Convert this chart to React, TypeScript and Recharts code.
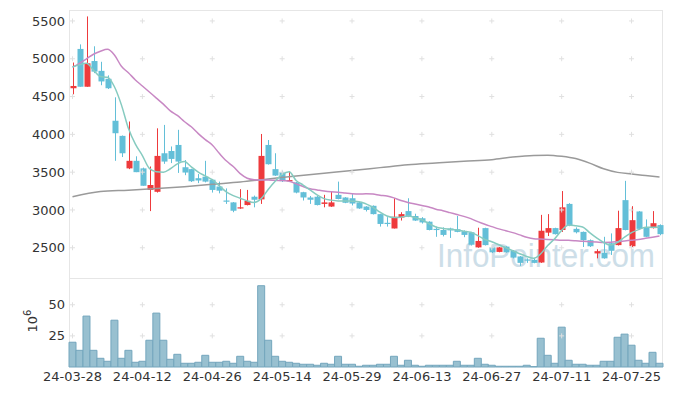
import React from 'react';
import { ComposedChart, Bar, Line, XAxis, YAxis, ReferenceDot } from 'recharts';

const dates = [
  '24-03-28', '24-03-29', '24-04-01', '24-04-02', '24-04-03', '24-04-04', '24-04-05', '24-04-08', '24-04-09', '24-04-11',
  '24-04-12', '24-04-15', '24-04-16', '24-04-17', '24-04-18', '24-04-19', '24-04-22', '24-04-23', '24-04-24', '24-04-25',
  '24-04-26', '24-04-29', '24-04-30', '24-05-02', '24-05-03', '24-05-07', '24-05-08', '24-05-09', '24-05-10', '24-05-13',
  '24-05-14', '24-05-16', '24-05-17', '24-05-20', '24-05-21', '24-05-22', '24-05-23', '24-05-24', '24-05-27', '24-05-28',
  '24-05-29', '24-05-30', '24-05-31', '24-06-03', '24-06-04', '24-06-05', '24-06-07', '24-06-10', '24-06-11', '24-06-12',
  '24-06-13', '24-06-14', '24-06-17', '24-06-18', '24-06-19', '24-06-20', '24-06-21', '24-06-24', '24-06-25', '24-06-26',
  '24-06-27', '24-06-28', '24-07-01', '24-07-02', '24-07-03', '24-07-04', '24-07-05', '24-07-08', '24-07-09', '24-07-10',
  '24-07-11', '24-07-12', '24-07-15', '24-07-16', '24-07-17', '24-07-18', '24-07-19', '24-07-22', '24-07-23', '24-07-24',
  '24-07-25', '24-07-26', '24-07-29', '24-07-30', '24-07-31',
];

const opens = [
  4610, 5130, 4630, 4970, 4840, 4735, 4180, 3980, 3550, 3650,
  3550, 3265, 3240, 3750, 3780, 3860, 3565, 3540, 3420, 3440,
  3400, 3310, 3125, 3100, 3020, 3065, 3175, 3140, 3860, 3540,
  3500, 3385, 3365, 3235, 3165, 3175, 3080, 3045, 3200, 3165,
  3155, 3100, 3045, 3055, 2945, 2830, 2755, 2900, 2985, 2920,
  2890, 2845, 2750, 2735, 2755, 2745, 2720, 2705, 2505, 2760,
  2505, 2445, 2515, 2460, 2385, 2345, 2340, 2305, 2700, 2760,
  2735, 3080, 2750, 2710, 2600, 2425, 2435, 2560, 2535, 3130,
  2520, 2980, 2770, 2760, 2800,
];
const highs = [
  4950, 5190, 5560, 5165, 4960, 4780, 4490, 3985, 4170, 3710,
  3560, 3575, 4080, 4125, 3840, 4060, 3660, 3545, 3475, 3650,
  3410, 3375, 3285, 3105, 3275, 3265, 3190, 4005, 3925, 3750,
  3520, 3510, 3370, 3240, 3185, 3185, 3200, 3240, 3375, 3170,
  3210, 3105, 3050, 3060, 2950, 2905, 3155, 2970, 3155, 2950,
  2905, 2850, 2780, 2770, 2765, 2920, 2730, 2710, 2765, 2765,
  2510, 2510, 2520, 2470, 2390, 2360, 2360, 2935, 2945, 2765,
  3250, 3090, 2770, 2715, 2610, 2480, 2645, 2690, 2990, 3385,
  3050, 2985, 2875, 2985, 2810,
];
const lows = [
  4530, 4630, 4630, 4810, 4650, 4600, 3650, 3700, 3540, 3500,
  3320, 2985, 3230, 3610, 3620, 3490, 3460, 3370, 3355, 3365,
  3230, 3220, 3080, 2970, 3015, 3060, 3035, 3080, 3600, 3450,
  3370, 3380, 3220, 3125, 3080, 3060, 3035, 3040, 3140, 3090,
  3060, 3015, 2980, 2940, 2780, 2780, 2755, 2860, 2905, 2855,
  2820, 2730, 2645, 2650, 2630, 2705, 2640, 2530, 2500, 2530,
  2430, 2440, 2435, 2360, 2260, 2300, 2295, 2300, 2655, 2675,
  2710, 2785, 2690, 2510, 2510, 2360, 2355, 2405, 2530, 2730,
  2510, 2740, 2640, 2755, 2665,
];
const closes = [
  4640, 4630, 4940, 4830, 4700, 4610, 4015, 3750, 3650, 3500,
  3320, 3330, 3715, 3640, 3675, 3640, 3495, 3380, 3390, 3375,
  3265, 3255, 3115, 2990, 3035, 3120, 3135, 3715, 3605, 3455,
  3380, 3395, 3230, 3165, 3135, 3065, 3100, 3100, 3145, 3095,
  3085, 3020, 3000, 2945, 2815, 2815, 2910, 2945, 2910, 2860,
  2835, 2735, 2740, 2670, 2730, 2710, 2670, 2540, 2590, 2535,
  2440, 2505, 2440, 2370, 2300, 2335, 2300, 2725, 2760, 2680,
  3035, 2790, 2705, 2600, 2520, 2455, 2360, 2460, 2760, 2735,
  2865, 2750, 2645, 2825, 2680,
];

// volume in millions
const volumes = [
  19.9, 13.4, 40.9, 13.4, 7.0, 4.6, 37.6, 7.0, 13.4, 3.8,
  4.6, 21.5, 43.3, 21.5, 6.2, 10.2, 3.0, 3.0, 3.8, 9.4,
  3.8, 3.8, 4.6, 3.0, 8.6, 4.6, 3.8, 65.3, 21.5, 8.6,
  4.6, 3.8, 3.0, 2.2, 2.2, 1.4, 3.0, 2.2, 8.6, 2.2,
  2.2, 0.6, 1.4, 1.4, 2.2, 2.2, 8.6, 1.4, 5.4, 1.4,
  0.6, 1.4, 1.4, 1.4, 1.4, 4.6, 1.4, 1.4, 7.0, 2.2,
  1.4, 0.6, 0.6, 0.6, 0.6, 1.4, 0.3, 23.1, 9.4, 3.0,
  32.0, 5.4, 2.2, 2.2, 1.4, 1.4, 4.6, 4.6, 23.9, 26.4,
  17.5, 5.4, 3.0, 11.8, 3.0,
];

// moving averages
const ma5 = [
  4890, 4920, 4940, 4850, 4765, 4755, 4630, 4390, 4080, 3870,
  3720, 3550, 3505, 3500, 3545, 3610, 3640, 3570, 3500, 3450,
  3400, 3320, 3240, 3190, 3155, 3120, 3100, 3150, 3270, 3380,
  3470, 3505, 3390, 3330, 3265, 3200, 3150, 3130, 3120, 3120,
  3115, 3110, 3080, 3035, 2970, 2920, 2900, 2905, 2920, 2900,
  2870, 2820, 2775, 2755, 2745, 2735, 2720, 2705, 2660, 2610,
  2580, 2540, 2500, 2460, 2420, 2385, 2360, 2420, 2530, 2620,
  2730, 2800, 2790, 2775, 2700, 2630, 2570, 2535, 2570, 2640,
  2700, 2740, 2770, 2770, 2770,
];
const ma20 = [
  4890, 4940, 5000, 5060, 5100, 5125, 5050, 4900, 4815, 4720,
  4640, 4560, 4480, 4400, 4310, 4250, 4170, 4100, 4010, 3930,
  3860, 3750, 3650, 3575, 3480, 3420, 3400, 3395, 3395, 3392,
  3390, 3380, 3345, 3310, 3280, 3265, 3250, 3240, 3235, 3225,
  3215, 3210, 3215, 3210, 3195, 3185, 3160, 3125, 3100, 3080,
  3060, 3040, 3010, 2990, 2965, 2940, 2915, 2885, 2845, 2810,
  2780, 2750, 2725, 2700, 2670, 2640, 2620, 2615, 2610, 2605,
  2600, 2598, 2592, 2585, 2580, 2575, 2570, 2572, 2580, 2590,
  2600, 2610, 2625, 2640, 2655,
];
const ma60Idx = [0, 4, 8, 12, 16, 20, 24, 28, 32, 36, 40, 44, 48, 52, 56, 60, 63, 66, 68, 70, 72, 74, 76, 78, 80, 82, 84];
const ma60Val = [3175, 3245, 3262, 3283, 3308, 3340, 3370, 3410, 3450, 3487, 3522, 3560, 3598, 3622, 3645, 3665, 3700, 3722, 3725, 3710, 3680, 3620, 3545, 3497, 3475, 3455, 3435];

const priceTicks = [2500, 3000, 3500, 4000, 4500, 5000, 5500];
const volTicks = [25, 50];

const RED = '#ee3a3c';
const BLUE = '#63bfd8';
const FONT = 'DejaVu Sans';

const rows = dates.map((d, i) => {
  const k = ma60Idx.indexOf(i);
  return {
    date: d,
    open: opens[i],
    high: highs[i],
    low: lows[i],
    close: closes[i],
    range: [lows[i], highs[i]],
    vol: volumes[i],
    ma5: ma5[i],
    ma20: ma20[i],
    ma60: k >= 0 ? ma60Val[k] : null,
  };
});

const gridDates = dates.filter((_, i) => i % 10 === 0);

const Candle = (props: any) => {
  let { x, y, width, height } = props;
  const { open, close, high, low } = props.payload;
  if (height < 0) {
    y += height;
    height = -height;
  }
  const color = close >= open ? RED : BLUE;
  const ratio = high === low ? 0 : height / (high - low);
  const cx = Math.round(x + width / 2) + 0.5;
  const top = y + (high - Math.max(open, close)) * ratio;
  const bot = y + (high - Math.min(open, close)) * ratio;
  return (
    <g>
      <line x1={cx} x2={cx} y1={y} y2={y + height} stroke={color} strokeWidth={1} />
      <rect x={cx - 3} y={top} width={6} height={Math.max(1.2, bot - top)} fill={color} />
    </g>
  );
};

const Cross = (props: any) => {
  const { cx, cy } = props;
  return (
    <path
      d={`M${cx - 2.5},${cy}H${cx + 2.5}M${cx},${cy - 2.5}V${cy + 2.5}`}
      stroke="#e0e0e0"
      strokeWidth={1}
    />
  );
};

const crosses = (values: number[], prefix: string) =>
  gridDates.flatMap((d) =>
    values.map((v) => (
      <ReferenceDot key={`${prefix}-${d}-${v}`} x={d} y={v} shape={<Cross />} />
    ))
  );

const tickStyle = { fontSize: 13, fill: '#333', fontFamily: FONT };

// coordinates are inside the volume chart's own svg (which starts at page y 278)
const VolLabel = () => (
  <text x={37} y={43} transform="rotate(-90 37 43)" textAnchor="middle" fontSize={13} fill="#333" fontFamily={FONT}>
    10<tspan dy={-6} fontSize={10}>6</tspan>
  </text>
);

export default function App() {
  return (
    <div style={{ position: 'absolute', left: 0, top: 0, width: 673, height: 396, background: '#fff' }}>
      <svg width={673} height={396} style={{ position: 'absolute', left: 0, top: 0 }}>
        <text
          x={437}
          y={267}
          fontSize={34}
          fontFamily="Liberation Sans"
          fill="#cddee8"
          textLength={218}
          lengthAdjust="spacingAndGlyphs"
        >
          InfoPointer.com
        </text>
      </svg>
      <div
        style={{
          position: 'absolute',
          left: 69,
          top: 10,
          width: 594,
          height: 357,
          border: '1px solid #e6e6e6',
          boxSizing: 'border-box',
        }}
      />
      <div style={{ position: 'absolute', left: 69, top: 278, width: 594, height: 1, background: '#e6e6e6' }} />
      <div style={{ position: 'absolute', left: 0, top: 0 }}>
        <ComposedChart width={673} height={278} data={rows} margin={{ top: 10, right: 10, bottom: 0, left: 0 }}>
          <XAxis dataKey="date" hide />
          <YAxis
            domain={[2100, 5645]}
            ticks={priceTicks}
            width={69}
            axisLine={false}
            tickLine={false}
            tickSize={0}
            tickMargin={4}
            tick={tickStyle}
          />
          {crosses(priceTicks, 'p')}
          <Bar dataKey="range" shape={<Candle />} isAnimationActive={false} />
          <Line type="monotone" dataKey="ma60" stroke="#9a9a9a" strokeWidth={1.5} dot={false} connectNulls isAnimationActive={false} />
          <Line type="monotone" dataKey="ma20" stroke="#c888c4" strokeWidth={1.5} dot={false} isAnimationActive={false} />
          <Line type="monotone" dataKey="ma5" stroke="#86cbc0" strokeWidth={1.5} dot={false} isAnimationActive={false} />
        </ComposedChart>
      </div>
      <div style={{ position: 'absolute', left: 0, top: 278 }}>
        <ComposedChart width={673} height={118} data={rows} barCategoryGap={0} margin={{ top: 0, right: 10, bottom: 0, left: 0 }}>
          <XAxis
            dataKey="date"
            height={29}
            interval={9}
            axisLine={false}
            tickLine={false}
            tickSize={0}
            tickMargin={5}
            tick={tickStyle}
          />
          <YAxis
            domain={[0, 71.5]}
            ticks={volTicks}
            width={69}
            axisLine={false}
            tickLine={false}
            tickSize={0}
            tickMargin={4}
            tick={tickStyle}
            label={<VolLabel />}
          />
          {crosses(volTicks, 'v')}
          <Bar dataKey="vol" fill="#98c0d0" stroke="#74a6bd" strokeWidth={1} isAnimationActive={false} />
        </ComposedChart>
      </div>
    </div>
  );
}
